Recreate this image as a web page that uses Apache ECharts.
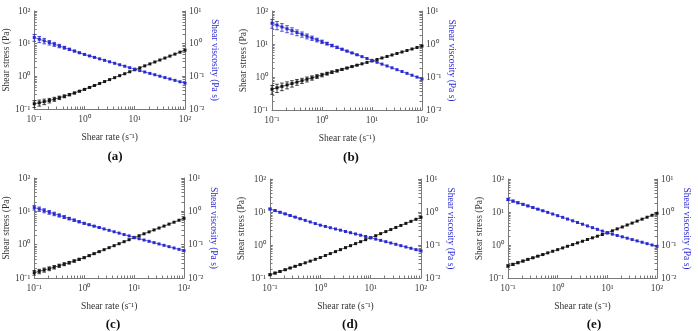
<!DOCTYPE html>
<html><head><meta charset="utf-8">
<script src="https://cdn.jsdelivr.net/npm/echarts@6/dist/echarts.min.js"></script>
<style>html,body{margin:0;padding:0;background:#fff}#c{width:698px;height:331px}</style>
</head><body><div id="c"></div>
<script>
// Shear rate (s^-1)
const rates = [0.1,0.126,0.158,0.2,0.251,0.316,0.398,0.501,0.631,0.794,1,1.26,1.58,2,2.51,3.16,3.98,5.01,6.31,7.94,10,12.6,15.8,20,25.1,31.6,39.8,50.1,63.1,79.4,100];

// Panel (a)
const stressA = [0.145,0.155,0.168,0.182,0.200,0.221,0.245,0.275,0.309,0.351,0.398,0.457,0.525,0.603,0.692,0.794,0.912,1.05,1.20,1.38,1.59,1.82,2.09,2.40,2.75,3.16,3.63,4.17,4.79,5.50,6.31];
const viscA = [1.55,1.37,1.22,1.08,0.959,0.851,0.755,0.670,0.594,0.527,0.468,0.422,0.380,0.343,0.309,0.279,0.251,0.226,0.204,0.184,0.166,0.150,0.136,0.123,0.112,0.101,0.0916,0.0830,0.0752,0.0681,0.0617];
const errA = [0.24,0.21,0.19,0.16,0.14,0.12,0.1,0.08,0.06,0.05,0.04,0.03,0.02];

// Panel (b)
const stressB = [0.427,0.471,0.520,0.574,0.634,0.700,0.773,0.853,0.942,1.04,1.15,1.27,1.40,1.54,1.70,1.87,2.07,2.28,2.51,2.77,3.06,3.39,3.77,4.18,4.65,5.16,5.73,6.36,7.06,7.84,8.71];
const viscB = [4.27,3.75,3.29,2.89,2.54,2.23,1.96,1.72,1.51,1.33,1.17,1.03,0.900,0.791,0.695,0.610,0.536,0.471,0.414,0.363,0.319,0.280,0.246,0.216,0.190,0.167,0.147,0.129,0.113,0.0994,0.0873];
const errB = [0.3,0.28,0.26,0.24,0.22,0.2,0.18,0.17,0.15,0.13,0.12,0.1,0.09,0.08,0.06,0.05,0.04,0.03];

// Panel (c)
const stressC = [0.145,0.158,0.174,0.191,0.211,0.234,0.260,0.288,0.324,0.363,0.407,0.468,0.537,0.617,0.708,0.813,0.933,1.07,1.23,1.41,1.62,1.85,2.12,2.42,2.77,3.16,3.61,4.13,4.72,5.40,6.17];
const viscC = [1.30,1.17,1.05,0.938,0.841,0.755,0.676,0.607,0.543,0.488,0.437,0.396,0.360,0.327,0.296,0.269,0.244,0.222,0.201,0.183,0.166,0.151,0.138,0.126,0.115,0.105,0.0955,0.0871,0.0794,0.0724,0.0661];
const errC = [0.16,0.15,0.14,0.13,0.12,0.11,0.1,0.09,0.08,0.07,0.06,0.05,0.04,0.03];

// Panel (d)
const stressD = [0.126,0.141,0.158,0.178,0.201,0.226,0.255,0.288,0.325,0.368,0.417,0.479,0.550,0.631,0.724,0.832,0.955,1.10,1.26,1.45,1.66,1.91,2.21,2.55,2.94,3.39,3.91,4.51,5.20,6.00,6.92];
const viscD = [1.23,1.10,0.982,0.877,0.783,0.700,0.625,0.558,0.499,0.446,0.398,0.365,0.334,0.306,0.281,0.257,0.236,0.216,0.198,0.181,0.166,0.151,0.138,0.126,0.115,0.105,0.0955,0.0871,0.0794,0.0724,0.0661];
const errD = [0.06,0.055,0.05,0.045,0.04,0.035,0.03];

// Panel (e)
const stressE = [0.232,0.259,0.291,0.326,0.366,0.409,0.459,0.514,0.577,0.646,0.724,0.815,0.916,1.03,1.16,1.30,1.47,1.65,1.85,2.08,2.34,2.69,3.08,3.52,4.04,4.62,5.30,6.07,6.95,7.96,9.12];
const viscE = [2.40,2.14,1.91,1.71,1.53,1.37,1.22,1.09,0.973,0.869,0.776,0.689,0.611,0.542,0.481,0.427,0.378,0.336,0.298,0.264,0.234,0.213,0.194,0.177,0.161,0.146,0.133,0.121,0.110,0.100,0.0912];
const errE = [0.08,0.07,0.065,0.06,0.05,0.045,0.04,0.03];

const panelLabels = ['(a)','(b)','(c)','(d)','(e)'];
const expLabels = {'-2':'10\u207B\u00B2','-1':'10\u207B\u00B9','0':'10\u2070','1':'10\u00B9','2':'10\u00B2'};
const xName = 'Shear rate (s\u207B\u00B9)';
const yLeftName = 'Shear stress (Pa)';
const yRightName = 'Shear viscosity (Pa s)';

const panels = [
  {s: stressA, v: viscA, e: errA},
  {s: stressB, v: viscB, e: errB},
  {s: stressC, v: viscC, e: errC},
  {s: stressD, v: viscD, e: errD},
  {s: stressE, v: viscE, e: errE}
];

const layout = [
  {left:34, top:11, width:151, height:98, lx:110, ly:145},
  {left:272, top:11, width:150, height:99, lx:346, ly:146},
  {left:34, top:178, width:150, height:100, lx:108, ly:313},
  {left:270, top:179, width:151, height:99, lx:345, ly:313},
  {left:508, top:179, width:149, height:99, lx:589, ly:313}
];

const FONT = 'Liberation Serif';
const BLUE = '#2a2ad2';
const BLACK = '#151515';
const AXIS = '#7a7a7a';

function fmt(v){ return expLabels[String(Math.round(Math.log10(v)))] || ''; }

function errRender(params, api){
  const x = api.value(0), lo = api.value(1), hi = api.value(2);
  const p1 = api.coord([x, lo]), p2 = api.coord([x, hi]);
  const w = 1.8;
  const style = {stroke: api.visual('color'), lineWidth: 0.8};
  return {type:'group', children:[
    {type:'line', shape:{x1:p1[0],y1:p1[1],x2:p2[0],y2:p2[1]}, style:style},
    {type:'line', shape:{x1:p1[0]-w,y1:p1[1],x2:p1[0]+w,y2:p1[1]}, style:style},
    {type:'line', shape:{x1:p2[0]-w,y1:p2[1],x2:p2[0]+w,y2:p2[1]}, style:style}
  ]};
}

const grid = [], xAxis = [], yAxis = [], series = [], title = [];
layout.forEach((g, i) => {
  grid.push({left:g.left, top:g.top, width:g.width, height:g.height, containLabel:false});
  const common = {
    type:'log', logBase:10,
    axisLine:{show:true, onZero:false, lineStyle:{color:AXIS, width:1}},
    axisTick:{show:true, inside:true, length:3, lineStyle:{color:AXIS}},
    minorTick:{show:true, splitNumber:10, length:2.5, lineStyle:{color:AXIS, width:1}},
    splitLine:{show:false}, minorSplitLine:{show:false},
    axisLabel:{formatter:fmt, fontFamily:FONT, fontSize:9.5, color:'#444', margin:4},
    nameLocation:'middle',
    nameTextStyle:{fontFamily:FONT, fontSize:9.5, color:'#333'}
  };
  xAxis.push(Object.assign({}, common, {gridIndex:i, min:0.1, max:100, name:xName, nameGap:23,
    axisLabel:Object.assign({}, common.axisLabel, {margin:5})}));
  yAxis.push(Object.assign({}, common, {gridIndex:i, position:'left', min:0.1, max:100, name:yLeftName, nameGap:19}));
  yAxis.push(Object.assign({}, common, {gridIndex:i, position:'right', min:0.01, max:10, name:yRightName, nameGap:24, nameRotate:-90,
    nameTextStyle:{fontFamily:FONT, fontSize:9.5, color:BLUE}}));
  const p = panels[i];
  const sData = rates.map((r, k) => [r, p.s[k]]);
  const vData = rates.map((r, k) => [r, p.v[k]]);
  const sErr = p.e.map((e, k) => [rates[k], p.s[k]*(1-e), p.s[k]*(1+e)]);
  const vErr = p.e.map((e, k) => [rates[k], p.v[k]*(1-e), p.v[k]*(1+e)]);
  series.push({type:'custom', xAxisIndex:i, yAxisIndex:2*i, data:sErr, renderItem:errRender, itemStyle:{color:BLACK}, encode:{x:0, y:[1,2]}, silent:true, z:2});
  series.push({type:'custom', xAxisIndex:i, yAxisIndex:2*i+1, data:vErr, renderItem:errRender, itemStyle:{color:BLUE}, encode:{x:0, y:[1,2]}, silent:true, z:2});
  series.push({type:'line', xAxisIndex:i, yAxisIndex:2*i, data:sData, symbol:'rect', symbolSize:3, showSymbol:true,
    lineStyle:{color:BLACK, width:0.7}, itemStyle:{color:BLACK}, animation:false, z:3});
  series.push({type:'line', xAxisIndex:i, yAxisIndex:2*i+1, data:vData, symbol:'rect', symbolSize:3, showSymbol:true,
    lineStyle:{color:BLUE, width:0.7}, itemStyle:{color:BLUE}, animation:false, z:3});
  title.push({text:panelLabels[i], left:g.lx, top:g.ly, textAlign:'center',
    textStyle:{fontFamily:FONT, fontSize:13, fontWeight:'bold', color:'#111'}});
});

const chart = echarts.init(document.getElementById('c'), null, {renderer:'canvas'});
chart.setOption({animation:false, backgroundColor:'#fff', title, grid, xAxis, yAxis, series});
</script>
</body></html>
